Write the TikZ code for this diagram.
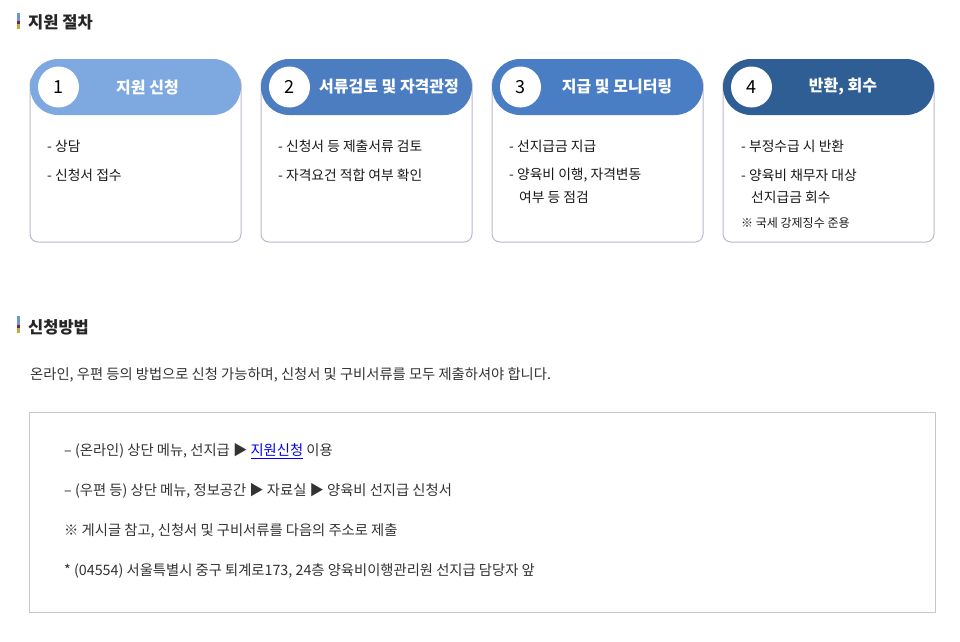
\documentclass[tikz,border=0pt]{standalone}
\usepackage{fontspec}
\setmainfont{Noto Sans CJK KR}
\definecolor{step_one}{RGB}{125, 168, 224}
\definecolor{step_two}{RGB}{76, 125, 192}
\definecolor{step_three}{RGB}{74, 126, 196}
\definecolor{step_four}{RGB}{47, 94, 149}
\definecolor{bar_blue}{RGB}{106, 154, 200}
\definecolor{bar_purple}{RGB}{138, 26, 90}
\definecolor{bar_olive}{RGB}{184, 176, 64}
\definecolor{card_line}{RGB}{192, 182, 204}
\definecolor{box_line}{RGB}{200, 200, 200}
\definecolor{text_dark}{RGB}{51, 51, 51}
\definecolor{link_blue}{RGB}{0, 0, 238}

\begin{document}
\begin{tikzpicture}[x=1pt, y=-1pt,
  heading/.style={anchor=west, inner sep=0pt, text=black!85,
    font=\fontsize{16.5}{19}\selectfont\bfseries},
  numcircle/.style={circle, fill=white, minimum size=41pt, inner sep=0pt,
    font=\fontsize{18}{20}\selectfont},
  steptitle/.style={inner sep=0pt, text=white,
    font=\fontsize{16}{19}\selectfont\bfseries},
  item/.style={anchor=west, inner sep=0pt, text=black!90,
    font=\fontsize{13.8}{16}\selectfont},
  note/.style={anchor=west, inner sep=0pt, text=black!90,
    font=\fontsize{12}{14}\selectfont},
  plain/.style={anchor=west, inner sep=0pt, text=text_dark,
    font=\fontsize{14.3}{16}\selectfont}]
\useasboundingbox (0, 0) rectangle (960, 641);
\fill[white] (0, 0) rectangle (960, 641);

% first heading
\fill[bar_blue] (17, 13) rectangle (20, 21);
\fill[bar_purple] (17, 21) rectangle (20, 24);
\fill[bar_olive] (17, 24) rectangle (20, 29);
\node[heading] (head1) at (28, 22) {지원 절차};

% step cards
\foreach \n/\x/\tx/\col/\title in {1/30/117.5/step_one/지원 신청,
    2/261/128/step_two/서류검토 및 자격관정,
    3/492/125/step_three/지급 및 모니터링,
    4/723/120/step_four/{반환, 회수}} {
  \draw[card_line, line width=1pt, rounded corners=8pt] (\x, 75) rectangle ++(211, 167);
  \fill[\col, rounded corners=28pt] (\x, 59) rectangle ++(211, 56);
  \node[numcircle] (num\n) at (\x+28.5, 87) {\n};
  \node[steptitle] (title\n) at (\x+\tx, 87) {\title};
}

\node[item] (c1a) at (47, 146) {- 상담};
\node[item] (c1b) at (47, 175) {- 신청서 접수};

\node[item] (c2a) at (278, 146) {- 신청서 등 제출서류 검토};
\node[item] (c2b) at (278, 175) {- 자격요건 적합 여부 확인};

\node[item] (c3a) at (509, 146) {- 선지급금 지급};
\node[item] (c3b) at (509, 175) {- 양육비 이행, 자격변동};
\node[item] (c3c) at (519, 197) {여부 등 점검};

\node[item] (c4a) at (741, 146) {- 부정수급 시 반환};
\node[item] (c4b) at (741, 175) {- 양육비 채무자 대상};
\node[item] (c4c) at (751, 197) {선지급금 회수};
\node[note] (c4d) at (741, 223) {※ 국세 강제징수 준용};

% second heading
\fill[bar_blue] (17, 316) rectangle (20, 325);
\fill[bar_purple] (17, 325) rectangle (20, 328);
\fill[bar_olive] (17, 328) rectangle (20, 333);
\node[heading] (head2) at (28, 327) {신청방법};

\node[plain] (intro) at (30, 375)
  {온라인, 우편 등의 방법으로 신청 가능하며, 신청서 및 구비서류를 모두 제출하셔야 합니다.};

% how to apply
\draw[box_line, line width=1pt] (29, 412) rectangle (935, 612);
\node[plain] (way1) at (64, 451)
  {– (온라인) 상단 메뉴, 선지급 ▶ \textcolor{link_blue}{\underline{지원신청}} 이용};
\node[plain] (way2) at (64, 491)
  {– (우편 등) 상단 메뉴, 정보공간 ▶ 자료실 ▶ 양육비 선지급 신청서};
\node[plain] (way3) at (64, 531)
  {※ 게시글 참고, 신청서 및 구비서류를 다음의 주소로 제출};
\node[plain] (way4) at (64, 571)
  {* (04554) 서울특별시 중구 퇴계로173, 24층 양육비이행관리원 선지급 담당자 앞};
\end{tikzpicture}
\end{document}
